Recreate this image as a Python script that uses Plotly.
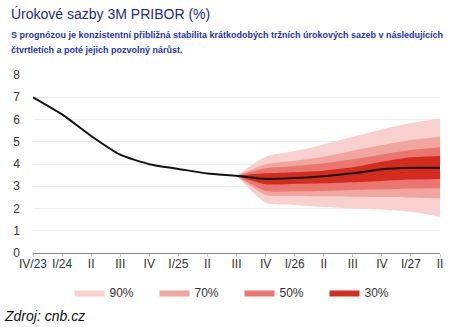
import plotly.graph_objects as go

# Quarter labels along the x axis
quarters = ["IV/23", "I/24", "II", "III", "IV", "I/25", "II", "III",
            "IV", "I/26", "II", "III", "IV", "I/27", "II"]

# 3M PRIBOR: history up to III/25, forecast afterwards (%)
history = [7.00, 6.23, 5.26, 4.42, 3.99, 3.78, 3.57, 3.47]
forecast = [3.47, 3.33, 3.37, 3.45, 3.58, 3.76, 3.83, 3.83]

# Confidence bands of the forecast, starting at III/25
upper_90 = [3.47, 4.33, 4.58, 4.88, 5.22, 5.55, 5.84, 6.05]
lower_90 = [3.47, 2.26, 2.16, 2.07, 2.00, 1.95, 1.85, 1.63]
upper_70 = [3.47, 3.99, 4.15, 4.33, 4.60, 4.85, 5.08, 5.23]
lower_70 = [3.47, 2.61, 2.56, 2.55, 2.53, 2.52, 2.50, 2.46]
upper_50 = [3.47, 3.81, 3.91, 4.03, 4.21, 4.43, 4.63, 4.75]
lower_50 = [3.47, 2.79, 2.77, 2.79, 2.83, 2.86, 2.90, 2.91]
upper_30 = [3.47, 3.58, 3.63, 3.70, 3.85, 4.10, 4.30, 4.36]
lower_30 = [3.47, 3.09, 3.10, 3.13, 3.18, 3.24, 3.30, 3.33]

band_names = ["90%", "70%", "50%", "30%"]
band_colors = ["#f8d0cd", "#f0a59f", "#e9776f", "#d52b1e"]

title = "Úrokové sazby 3M PRIBOR (%)"
subtitle_lines = [
    "S prognózou je konzistentní přibližná stabilita krátkodobých tržních úrokových sazeb v následujících",
    "čtvrtletích a poté jejich pozvolný nárůst.",
]
source = "Zdroj: cnb.cz"

x_all = list(range(len(quarters)))
x_hist = x_all[:len(history)]
x_fc = x_all[len(history) - 1:]

fig = go.Figure()

bands = [(lower_90, upper_90), (lower_70, upper_70),
         (lower_50, upper_50), (lower_30, upper_30)]
for name, color, (lo, hi) in zip(band_names, band_colors, bands):
    fig.add_trace(go.Scatter(
        x=x_fc, y=lo, mode="lines", line=dict(width=0, shape="spline", smoothing=0.6),
        showlegend=False, hoverinfo="skip"))
    fig.add_trace(go.Scatter(
        x=x_fc, y=hi, mode="lines", line=dict(width=0, shape="spline", smoothing=0.6),
        fill="tonexty", fillcolor=color, name=name))

fig.add_trace(go.Scatter(
    x=x_hist + x_fc[1:], y=history + forecast[1:], mode="lines",
    line=dict(color="#111111", width=2, shape="spline", smoothing=0.6),
    showlegend=False))

# plot area: 407 x 178 px, starting at (33, 75)
PW, PH = 407, 178


def px_x(px):
    return (px - 33) / PW


def px_y(py):
    return (253 - py) / PH


annotations = [
    dict(text=title, xref="paper", yref="paper", x=px_x(9), y=px_y(14),
         xanchor="left", yanchor="middle", showarrow=False,
         font=dict(size=14, color="#1c2a8f")),
    dict(text="<i>" + source + "</i>", xref="paper", yref="paper",
         x=px_x(2), y=px_y(316), xanchor="left", yanchor="middle",
         showarrow=False, font=dict(size=14, color="#111111")),
]
for i, line in enumerate(subtitle_lines):
    annotations.append(dict(
        text="<b>" + line + "</b>", xref="paper", yref="paper",
        x=px_x(9), y=px_y(35 + 15 * i), xanchor="left", yanchor="middle",
        align="left", showarrow=False, font=dict(size=9, color="#2234b0")))

fig.update_layout(
    width=462, height=327,
    margin=dict(l=33, r=22, t=75, b=74),
    paper_bgcolor="white", plot_bgcolor="white",
    font=dict(family="Liberation Sans, Arial, sans-serif", size=12, color="#333333"),
    showlegend=True,
    legend=dict(orientation="h", x=0.5 + 3 / PW, xanchor="center", y=-0.141,
                yanchor="top", font=dict(size=12, color="#333333"), itemwidth=30,
                entrywidth=40, entrywidthmode="pixels", traceorder="normal"),
    xaxis=dict(
        range=[0, len(quarters) - 1], tickmode="array", tickvals=x_all,
        ticktext=quarters, showgrid=False, zeroline=False,
        showline=True, linecolor="#888888", linewidth=1,
        ticks="outside", ticklen=3, tickcolor="#cccccc", ticklabelstandoff=-3,
        tickfont=dict(size=12, color="#333333"), fixedrange=True),
    yaxis=dict(
        range=[0, 8], tickvals=list(range(0, 9)), showgrid=True,
        gridcolor="#ececec", gridwidth=1, zeroline=False, showline=False,
        ticks="", ticklabelstandoff=12,
        tickfont=dict(size=12, color="#333333"), fixedrange=True),
    annotations=annotations,
)

fig.write_html("out.html")
